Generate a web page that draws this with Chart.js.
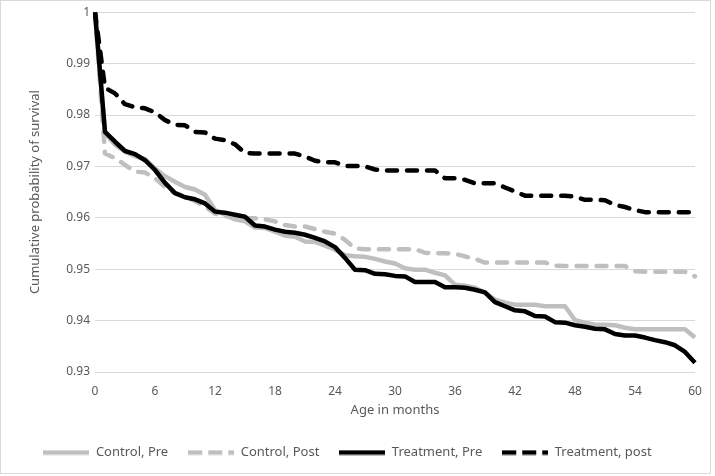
<!DOCTYPE html>
<html>
<head>
<meta charset="utf-8">
<script src="https://cdn.jsdelivr.net/npm/chart.js@4"></script>
<style>
  body { margin: 0; background: #fff; }
  #wrap { width: 715px; height: 476px; position: relative; }
</style>
</head>
<body>
<div id="wrap"><canvas id="chart"></canvas></div>
<script>
// months on the x axis (category labels), only every 6th gets a tick label
const months = [];
for (let m = 0; m <= 60; m++) months.push(m);

// cumulative survival
const controlPre = [
	1.0, 0.9765, 0.9742, 0.9729, 0.972, 0.9714, 0.9696, 0.9681, 0.967, 0.966,
	0.9655, 0.9645, 0.9615, 0.9606, 0.9597, 0.9593, 0.9581, 0.958, 0.9573, 0.9565,
	0.9563, 0.9554, 0.9553, 0.9546, 0.9538, 0.9527, 0.9525, 0.9524, 0.952, 0.9515,
	0.9511, 0.9502, 0.9499, 0.9499, 0.9493, 0.9488, 0.947, 0.9468, 0.9464, 0.9454,
	0.9441, 0.9435, 0.9431, 0.9431, 0.9431, 0.9428, 0.9428, 0.9428, 0.9401, 0.9396,
	0.9392, 0.9392, 0.9391, 0.9386, 0.9383, 0.9383, 0.9383, 0.9383, 0.9383, 0.9383,
	0.9367
];
const controlPost = [
	1.0, 0.9725, 0.9716, 0.9703, 0.969, 0.9688, 0.9677, 0.966, 0.9648, 0.9642,
	0.9632, 0.9622, 0.9608, 0.9604, 0.9599, 0.9599, 0.9599, 0.9597, 0.9593, 0.9586,
	0.9583, 0.9583, 0.9578, 0.9573, 0.9569, 0.9557, 0.954, 0.9539, 0.9539, 0.9539,
	0.9539, 0.9539, 0.9539, 0.9532, 0.9531, 0.9531, 0.953, 0.9525, 0.952, 0.9513,
	0.9513, 0.9513, 0.9513, 0.9513, 0.9513, 0.9513, 0.9507, 0.9506, 0.9506, 0.9506,
	0.9506, 0.9506, 0.9506, 0.9506, 0.9496, 0.9495, 0.9495, 0.9495, 0.9495, 0.9495,
	0.9486
];
const treatmentPre = [
	1.0, 0.9767, 0.9748, 0.973, 0.9724, 0.9712, 0.9693, 0.9668, 0.9648, 0.964,
	0.9636, 0.9628, 0.9612, 0.961, 0.9606, 0.9602, 0.9585, 0.9583, 0.9577, 0.9573,
	0.9571, 0.9567, 0.9561, 0.9554, 0.9543, 0.9522, 0.9499, 0.9498, 0.9491, 0.949,
	0.9487, 0.9486, 0.9475, 0.9475, 0.9475, 0.9465, 0.9465, 0.9464, 0.946, 0.9455,
	0.9436, 0.9428, 0.942, 0.9418, 0.9409, 0.9408, 0.9397, 0.9396, 0.9391, 0.9388,
	0.9384, 0.9383, 0.9374, 0.9371, 0.9371, 0.9367, 0.9362, 0.9358, 0.9352, 0.9339,
	0.9318
];
const treatmentPost = [
	1.0, 0.9853, 0.9842, 0.9821, 0.9815, 0.9813, 0.9805, 0.979, 0.9781, 0.978,
	0.9767, 0.9766, 0.9754, 0.9751, 0.9743, 0.9726, 0.9725, 0.9725, 0.9725, 0.9725,
	0.9725, 0.9719, 0.9711, 0.9708, 0.9708, 0.9701, 0.9701, 0.97, 0.9694, 0.9692,
	0.9692, 0.9692, 0.9692, 0.9692, 0.9692, 0.9677, 0.9677, 0.9674, 0.9667, 0.9667,
	0.9667, 0.9659, 0.9651, 0.9643, 0.9643, 0.9643, 0.9643, 0.9643, 0.9641, 0.9635,
	0.9635, 0.9634, 0.9625, 0.9621, 0.9615, 0.9611, 0.9611, 0.9611, 0.9611, 0.9611,
	0.9611
];

const seriesNames = ["Control, Pre", "Control, Post", "Treatment, Pre", "Treatment, post"];

const FONT = '"Noto Sans", "DejaVu Sans", sans-serif';
const TEXT_GREY = "#595959";
const LIGHT_GREY = "#bfbfbf";
const SWATCH_W = 46;

function lineSet(label, data, color, dashed, order) {
	return {
		label: label,
		data: data,
		borderColor: color,
		backgroundColor: color,
		borderWidth: 4.5,
		borderDash: dashed ? [10, 10] : [],
		borderCapStyle: dashed ? "round" : "butt",
		borderJoinStyle: "round",
		pointRadius: 0,
		pointHoverRadius: 0,
		tension: 0,
		fill: false,
		order: order,
	};
}

// small line sample used as the legend point style (keeps the dash pattern)
function makeSwatch(color, dashed) {
	const c = document.createElement("canvas");
	c.width = SWATCH_W;
	c.height = 6;
	const g = c.getContext("2d");
	g.strokeStyle = color;
	g.lineWidth = 4.5;
	g.lineCap = "butt";
	if (dashed) g.setLineDash([14, 6]);
	g.beginPath();
	g.moveTo(0, 3);
	g.lineTo(SWATCH_W, 3);
	g.stroke();
	return c;
}

// white page with the thin grey frame around it
const framePlugin = {
	id: "frame",
	beforeDraw(chart) {
		const ctx = chart.ctx;
		ctx.save();
		ctx.fillStyle = "#fff";
		ctx.fillRect(0, 0, chart.width, chart.height);
		ctx.strokeStyle = "#d9d9d9";
		ctx.lineWidth = 1;
		ctx.strokeRect(0.5, 0.5, 710, 473);
		ctx.restore();
	},
};

new Chart(document.getElementById("chart"), {
	type: "line",
	data: {
		labels: months,
		datasets: [
			lineSet(seriesNames[0], controlPre, LIGHT_GREY, false, 4),
			lineSet(seriesNames[1], controlPost, LIGHT_GREY, true, 3),
			lineSet(seriesNames[2], treatmentPre, "#000", false, 2),
			lineSet(seriesNames[3], treatmentPost, "#000", true, 1),
		],
	},
	options: {
		responsive: true,
		maintainAspectRatio: false,
		animation: false,
		layout: { padding: { left: 0, right: 20, top: 12, bottom: 7 } },
		plugins: {
			tooltip: { enabled: false },
			legend: {
				position: "bottom",
				labels: {
					usePointStyle: true,
					pointStyleWidth: SWATCH_W,
					boxWidth: SWATCH_W,
					padding: 20,
					color: TEXT_GREY,
					font: { family: FONT, size: 13 },
					sort: (a, b) => a.datasetIndex - b.datasetIndex,
					generateLabels: (chart) => {
						const items = Chart.defaults.plugins.legend.labels.generateLabels(chart);
						items.forEach((it) => {
							const ds = chart.data.datasets[it.datasetIndex];
							it.pointStyle = makeSwatch(ds.borderColor, ds.borderDash.length > 0);
						});
						return items;
					},
				},
			},
		},
		scales: {
			x: {
				grid: { display: false, drawTicks: false },
				border: { display: false },
				ticks: {
					autoSkip: false,
					maxRotation: 0,
					padding: 12,
					color: TEXT_GREY,
					font: { family: FONT, size: 12 },
					callback: function (val, idx) {
						return months[idx] % 6 === 0 ? String(months[idx]) : "";
					},
				},
				title: {
					display: true,
					text: "Age in months",
					color: TEXT_GREY,
					font: { family: FONT, size: 13 },
					padding: { top: 0, bottom: 8 },
				},
				afterFit: (scale) => {
					scale.height = 54;
				},
			},
			y: {
				min: 0.93,
				max: 1,
				grid: { color: "#d9d9d9", lineWidth: 1, drawTicks: false },
				border: { display: false },
				ticks: {
					stepSize: 0.01,
					padding: 5,
					color: TEXT_GREY,
					font: { family: FONT, size: 12 },
					callback: (val) => String(Number(val.toFixed(2))),
				},
				title: {
					display: true,
					text: "Cumulative probability of survival",
					color: TEXT_GREY,
					font: { family: FONT, size: 13 },
					padding: { top: 27, bottom: 0 },
				},
				afterFit: (scale) => {
					scale.width = 95;
				},
			},
		},
	},
	plugins: [framePlugin],
});
</script>
</body>
</html>
